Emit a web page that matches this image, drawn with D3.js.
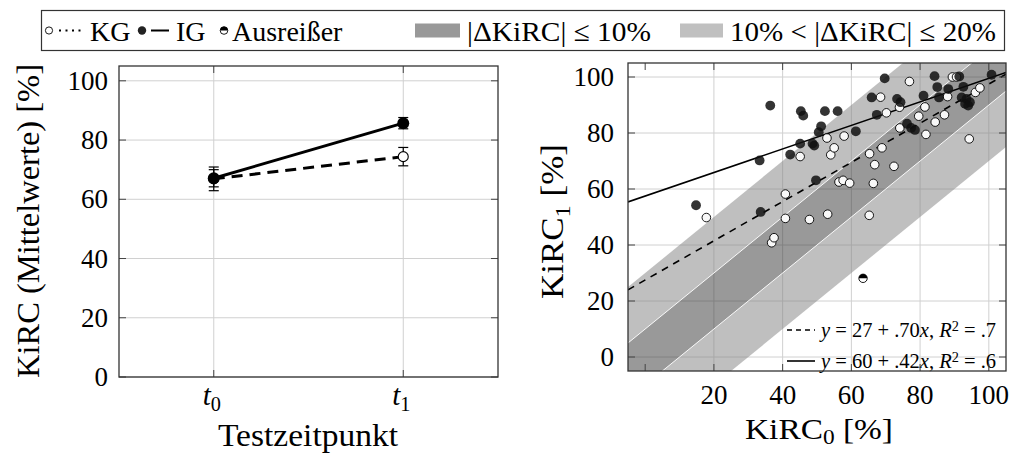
<!DOCTYPE html>
<html><head><meta charset="utf-8">
<script src="https://cdn.jsdelivr.net/npm/d3@7"></script>
<style>
body{margin:0;background:#fff}
svg{display:block}
text{font-family:"Liberation Serif","Times New Roman",serif;fill:#000}
</style>
</head><body>
<svg id="c" width="1013" height="453"></svg>
<script>
// ---------------- data ----------------
const timepoints = ["0", "1"];            // subscripts of t
const kgMeans = [66.9, 74.4];
const kgErr   = [4.0, 3.1];
const igMeans = [67.1, 85.7];
const igErr   = [2.9, 1.9];
const yTicksLeft = [0, 20, 40, 60, 80, 100];

const kgScatter = [
  [17.8,49.8],[36.8,40.8],[37.5,42.6],[40.8,58.2],[40.8,49.5],[45.1,71.6],[47.8,49.1],
  [52.9,78.2],[53.1,51.0],[54.0,72.2],[55.0,74.7],[56.4,62.5],[57.6,63.1],[57.9,78.9],
  [59.5,62.1],[65.2,50.6],[65.3,72.6],[66.4,62.0],[66.8,68.7],[68.5,92.8],[68.9,74.7],
  [70.2,87.2],[72.4,68.1],[74.0,89.2],[74.1,81.8],[76.9,98.4],[79.6,86.0],[81.4,89.3],
  [81.7,79.5],[84.4,83.9],[87.1,86.5],[88.0,93.0],[89.4,100.0],[90.6,100.0],[94.3,77.9],
  [96.1,94.5],[97.4,96.1]
];
const igScatter = [
  [14.8,54.2],[33.3,70.2],[33.6,51.8],[36.4,89.8],[42.2,72.3],[45.1,76.2],[45.3,87.8],
  [46.0,86.2],[48.7,76.2],[49.2,75.5],[49.7,63.1],[50.5,80.3],[51.2,82.4],[52.3,87.8],
  [56.0,87.8],[61.3,80.6],[65.9,92.7],[67.4,86.5],[69.7,99.5],[73.3,92.2],[74.3,91.0],
  [76.2,83.3],[77.4,81.8],[78.5,81.1],[81.0,93.3],[84.2,100.3],[85.0,96.4],[85.5,92.7],
  [88.2,95.7],[91.4,100.2],[92.6,96.5],[92.1,92.7],[93.5,92.2],[93.1,90.4],[94.0,89.8],
  [94.5,91.0],[100.8,100.8]
];
const outliers = [[63.4, 28.1]];
const kgFit = [27.5, 0.70];   // intercept, slope (drawn line)
const igFit = [57.5, 0.42];
const kgFitLabel = ["27", ".70", ".7"];
const igFitLabel = ["60", ".42", ".6"];
const bandInner = 10;
const bandOuter = 30;
const xTicksRight = [0, 20, 40, 60, 80, 100];
const xLabelsRight = [20, 40, 60, 80, 100];
const yTicksRight = [0, 20, 40, 60, 80, 100];

// ---------------- setup ----------------
const svg = d3.select("#c");
const GRID = "#d0d0d0", FRAME = "#333", TICK = "#444";
const FS_TICK = 27, FS_TITLE = 31, FS_LEG = 28, FS_IN = 21;

function fit(sel, len) {
  return sel.attr("textLength", len).attr("lengthAdjust", "spacingAndGlyphs");
}
function addSub(sel, main, sub, italic, rest, dy) {
  const d = dy || 0.3;
  sel.append("tspan").attr("font-style", italic ? "italic" : null).text(main);
  sel.append("tspan").attr("font-size", "70%").attr("dy", d + "em").text(sub);
  if (rest) sel.append("tspan").attr("dy", (-d * 0.7) + "em").text(rest);
}

// ---------------- top legend ----------------
const lg = svg.append("g");
lg.append("rect").attr("x", 41.5).attr("y", 10.5).attr("width", 963).attr("height", 40)
  .attr("fill", "#fff").attr("stroke", FRAME).attr("stroke-width", 1.2);
const ly = 30.5;
lg.append("circle").attr("cx", 49).attr("cy", ly).attr("r", 3.6).attr("fill", "#fff").attr("stroke", "#000").attr("stroke-width", 0.9);
lg.append("line").attr("x1", 59).attr("x2", 82).attr("y1", ly).attr("y2", ly).attr("stroke", "#000")
  .attr("stroke-width", 2).attr("stroke-dasharray", "2,4.5");
lg.append("text").attr("x", 90).attr("y", ly + 10).attr("font-size", FS_LEG).text("KG");
lg.append("circle").attr("cx", 142).attr("cy", ly).attr("r", 4.2).attr("fill", "#222");
lg.append("line").attr("x1", 151).attr("x2", 169).attr("y1", ly).attr("y2", ly).attr("stroke", "#000").attr("stroke-width", 2);
lg.append("text").attr("x", 176).attr("y", ly + 10).attr("font-size", FS_LEG).text("IG");
const hc = lg.append("g").attr("transform", `translate(224,${ly})`);
hc.append("circle").attr("r", 3.8).attr("fill", "#fff").attr("stroke", "#000").attr("stroke-width", 0.9);
hc.append("path").attr("d", d3.arc()({innerRadius: 0, outerRadius: 3.8, startAngle: -Math.PI/2, endAngle: Math.PI/2})).attr("fill", "#000");
lg.append("text").attr("x", 232).attr("y", ly + 10).attr("font-size", FS_LEG).text("Ausreißer");
lg.append("rect").attr("x", 415).attr("y", ly - 7).attr("width", 45).attr("height", 14).attr("fill", "#999");
fit(lg.append("text").attr("x", 467).attr("y", ly + 10).attr("font-size", FS_LEG).text("|ΔKiRC| ≤ 10%"), 184);
lg.append("rect").attr("x", 680).attr("y", ly - 7).attr("width", 43).attr("height", 14).attr("fill", "#c0c0c0");
fit(lg.append("text").attr("x", 730).attr("y", ly + 10).attr("font-size", FS_LEG).text("10% < |ΔKiRC| ≤ 20%"), 266);

// ---------------- left chart ----------------
const L = {x0: 119, x1: 498, y0: 66, y1: 377};
const xL = d3.scaleLinear().domain([-0.5, 1.5]).range([L.x0, L.x1]);
const yL = d3.scaleLinear().domain([0, 105]).range([L.y1, L.y0]);
const gl = svg.append("g");
const idx = timepoints.map((d, i) => i);

gl.selectAll(".gx").data(idx).join("line").attr("x1", d => xL(d)).attr("x2", d => xL(d))
  .attr("y1", L.y0).attr("y2", L.y1).attr("stroke", GRID).attr("stroke-width", 1);
gl.selectAll(".gy").data(yTicksLeft).join("line").attr("x1", L.x0).attr("x2", L.x1)
  .attr("y1", d => yL(d)).attr("y2", d => yL(d)).attr("stroke", GRID).attr("stroke-width", 1);

const lineL = d3.line().x((d, i) => xL(i)).y(d => yL(d));
gl.append("path").attr("d", lineL(kgMeans)).attr("fill", "none").attr("stroke", "#000")
  .attr("stroke-width", 3).attr("stroke-dasharray", "11,7");
gl.append("path").attr("d", lineL(igMeans)).attr("fill", "none").attr("stroke", "#000").attr("stroke-width", 3);

function errBars(means, errs) {
  means.forEach((m, i) => {
    const x = xL(i), top = yL(m + errs[i]), bot = yL(m - errs[i]);
    gl.append("line").attr("x1", x).attr("x2", x).attr("y1", top).attr("y2", bot).attr("stroke", "#000").attr("stroke-width", 1.2);
    [top, bot].forEach(yy => gl.append("line").attr("x1", x - 5).attr("x2", x + 5).attr("y1", yy).attr("y2", yy).attr("stroke", "#000").attr("stroke-width", 1.2));
  });
}
errBars(kgMeans, kgErr);
errBars(igMeans, igErr);
gl.selectAll(".mk").data(kgMeans).join("circle").attr("cx", (d, i) => xL(i)).attr("cy", d => yL(d))
  .attr("r", 5).attr("fill", "#fff").attr("stroke", "#000").attr("stroke-width", 1.1);
gl.selectAll(".mi").data(igMeans).join("circle").attr("cx", (d, i) => xL(i)).attr("cy", d => yL(d))
  .attr("r", 6).attr("fill", "#000");

// ticks (inside) and frame
yTicksLeft.forEach(t => {
  gl.append("line").attr("x1", L.x0).attr("x2", L.x0 + 7).attr("y1", yL(t)).attr("y2", yL(t)).attr("stroke", TICK);
  gl.append("line").attr("x1", L.x1 - 7).attr("x2", L.x1).attr("y1", yL(t)).attr("y2", yL(t)).attr("stroke", TICK);
  gl.append("text").attr("x", L.x0 - 11).attr("y", yL(t)).attr("dy", "0.34em").attr("text-anchor", "end")
    .attr("font-size", FS_TICK).text(t);
});
idx.forEach(i => {
  gl.append("line").attr("x1", xL(i)).attr("x2", xL(i)).attr("y1", L.y0).attr("y2", L.y0 + 7).attr("stroke", TICK);
  gl.append("line").attr("x1", xL(i)).attr("x2", xL(i)).attr("y1", L.y1 - 7).attr("y2", L.y1).attr("stroke", TICK);
  const t = gl.append("text").attr("x", xL(i) - 2).attr("y", 405).attr("text-anchor", "middle").attr("font-size", FS_TICK + 2);
  addSub(t, "t", timepoints[i], true);
});
gl.append("rect").attr("x", L.x0).attr("y", L.y0).attr("width", L.x1 - L.x0).attr("height", L.y1 - L.y0)
  .attr("fill", "none").attr("stroke", FRAME).attr("stroke-width", 1.3);
fit(gl.append("text").attr("x", 218).attr("y", 446).attr("font-size", FS_TITLE).text("Testzeitpunkt"), 180);
fit(gl.append("text").attr("transform", `translate(39,378) rotate(-90)`)
  .attr("font-size", FS_TITLE).text("KiRC (Mittelwerte) [%]"), 314);

// ---------------- right chart ----------------
const R = {x0: 628, x1: 1006, y0: 63, y1: 371};
const xR = d3.scaleLinear().domain([-5, 105]).range([R.x0, R.x1]);
const yR = d3.scaleLinear().domain([-5, 105]).range([R.y1, R.y0]);
const gr = svg.append("g");
gr.append("clipPath").attr("id", "clipR").append("rect").attr("x", R.x0).attr("y", R.y0)
  .attr("width", R.x1 - R.x0).attr("height", R.y1 - R.y0);
const inner = gr.append("g").attr("clip-path", "url(#clipR)");

inner.selectAll(".gx").data(xLabelsRight).join("line").attr("x1", d => xR(d)).attr("x2", d => xR(d))
  .attr("y1", R.y0).attr("y2", R.y1).attr("stroke", GRID).attr("stroke-width", 1);
inner.selectAll(".gy").data(yTicksRight).join("line").attr("x1", R.x0).attr("x2", R.x1)
  .attr("y1", d => yR(d)).attr("y2", d => yR(d)).attr("stroke", GRID).attr("stroke-width", 1);

const dom = xR.domain();
function band(a, b) {
  const pts = [[dom[0], dom[0] + a], [dom[1], dom[1] + a], [dom[1], dom[1] + b], [dom[0], dom[0] + b]];
  return "M" + pts.map(p => xR(p[0]) + "," + yR(p[1])).join("L") + "Z";
}
inner.append("path").attr("d", band(bandInner, bandOuter)).attr("fill", "#808080").attr("fill-opacity", 0.5);
inner.append("path").attr("d", band(-bandOuter, -bandInner)).attr("fill", "#808080").attr("fill-opacity", 0.5);
inner.append("path").attr("d", band(-bandInner, bandInner)).attr("fill", "#333").attr("fill-opacity", 0.5);
[bandInner, -bandInner].forEach(o => {
  inner.append("line").attr("x1", xR(dom[0])).attr("y1", yR(dom[0] + o)).attr("x2", xR(dom[1])).attr("y2", yR(dom[1] + o))
    .attr("stroke", "#fff").attr("stroke-width", 1).attr("stroke-opacity", 0.9);
});

const fitLine = f => d3.line()(dom.map(x => [xR(x), yR(f[0] + f[1] * x)]));
inner.append("path").attr("d", fitLine(kgFit)).attr("stroke", "#000").attr("stroke-width", 1.6)
  .attr("stroke-dasharray", "7,6").attr("fill", "none");
inner.append("path").attr("d", fitLine(igFit)).attr("stroke", "#000").attr("stroke-width", 1.6).attr("fill", "none");

inner.selectAll(".kg").data(kgScatter).join("circle").attr("cx", d => xR(d[0])).attr("cy", d => yR(d[1]))
  .attr("r", 4.3).attr("fill", "#f8f8f8").attr("stroke", "#000").attr("stroke-width", 0.9);
inner.selectAll(".ig").data(igScatter).join("circle").attr("cx", d => xR(d[0])).attr("cy", d => yR(d[1]))
  .attr("r", 4.9).attr("fill", "#111").attr("fill-opacity", 0.85);
outliers.forEach(d => {
  const g = inner.append("g").attr("transform", `translate(${xR(d[0])},${yR(d[1])})`);
  g.append("circle").attr("r", 4.2).attr("fill", "#fff").attr("stroke", "#000").attr("stroke-width", 0.9);
  g.append("path").attr("d", d3.arc()({innerRadius: 0, outerRadius: 4.2, startAngle: -Math.PI/2, endAngle: Math.PI/2})).attr("fill", "#000");
});

// in-plot legend
function fitText(y, lab) {
  const t = gr.append("text").attr("x", 821).attr("y", y).attr("font-size", FS_IN - 0.5);
  t.append("tspan").attr("font-style", "italic").text("y");
  t.append("tspan").text(` = ${lab[0]} + ${lab[1]}`);
  t.append("tspan").attr("font-style", "italic").text("x");
  t.append("tspan").text(", ");
  t.append("tspan").attr("font-style", "italic").text("R");
  t.append("tspan").attr("font-size", "70%").attr("dy", "-0.45em").text("2");
  t.append("tspan").attr("dy", "0.315em").text(` = ${lab[2]}`);
}
gr.append("line").attr("x1", 787).attr("x2", 815).attr("y1", 330).attr("y2", 330).attr("stroke", "#000")
  .attr("stroke-width", 1.6).attr("stroke-dasharray", "5,4");
fitText(337, kgFitLabel);
gr.append("line").attr("x1", 787).attr("x2", 815).attr("y1", 361).attr("y2", 361).attr("stroke", "#000").attr("stroke-width", 1.6);
fitText(368, igFitLabel);

// ticks, labels, frame
yTicksRight.forEach(t => {
  gr.append("line").attr("x1", R.x0).attr("x2", R.x0 + 7).attr("y1", yR(t)).attr("y2", yR(t)).attr("stroke", TICK);
  gr.append("line").attr("x1", R.x1 - 7).attr("x2", R.x1).attr("y1", yR(t)).attr("y2", yR(t)).attr("stroke", TICK);
  gr.append("text").attr("x", R.x0 - 14).attr("y", yR(t)).attr("dy", "0.34em").attr("text-anchor", "end")
    .attr("font-size", FS_TICK).text(t);
});
xTicksRight.forEach(t => {
  gr.append("line").attr("x1", xR(t)).attr("x2", xR(t)).attr("y1", R.y0).attr("y2", R.y0 + 7).attr("stroke", TICK);
  gr.append("line").attr("x1", xR(t)).attr("x2", xR(t)).attr("y1", R.y1 - 7).attr("y2", R.y1).attr("stroke", TICK);
});
xLabelsRight.forEach(t => {
  gr.append("text").attr("x", xR(t)).attr("y", 404).attr("text-anchor", "middle").attr("font-size", FS_TICK).text(t);
});
gr.append("rect").attr("x", R.x0).attr("y", R.y0).attr("width", R.x1 - R.x0).attr("height", R.y1 - R.y0)
  .attr("fill", "none").attr("stroke", FRAME).attr("stroke-width", 1.3);
const xt = gr.append("text").attr("x", 745).attr("y", 439).attr("font-size", 30);
addSub(xt, "KiRC", "0", false, " [%]", 0.25);
fit(xt, 148);
const yt = gr.append("text").attr("transform", `translate(563,299) rotate(-90)`).attr("font-size", FS_TITLE);
addSub(yt, "KiRC", "1", false, " [%]");
fit(yt, 155);
</script>
</body></html>
